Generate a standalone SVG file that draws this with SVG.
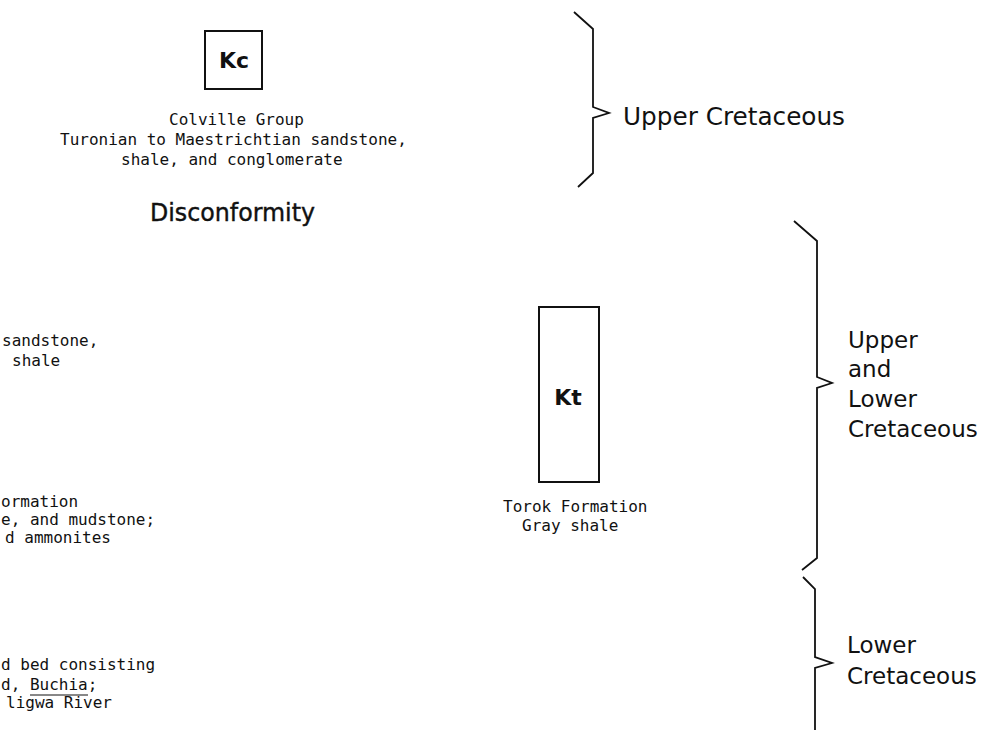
<svg xmlns="http://www.w3.org/2000/svg" width="985" height="730" viewBox="0 0 985 730">
<style>
.mono{font-family:"DejaVu Sans Mono","Liberation Mono",monospace;font-size:16px;fill:#111}
.lab{font-family:"DejaVu Sans","Liberation Sans",sans-serif;fill:#111}
.sym{font-family:"DejaVu Sans","Liberation Sans",sans-serif;font-weight:bold;font-size:22px;fill:#111}
.box{fill:none;stroke:#111;stroke-width:2}
.br{fill:none;stroke:#111;stroke-width:1.8;stroke-linejoin:miter}
</style>
<rect width="985" height="730" fill="#fff"/>
<g id="kc">
<rect class="box" x="205" y="31" width="57" height="58"/>
<text class="sym" x="234" y="68" text-anchor="middle">Kc</text>
<text class="mono" x="169" y="125">Colville Group</text>
<text class="mono" x="60" y="145">Turonian to Maestrichtian sandstone,</text>
<text class="mono" x="121" y="165">shale, and conglomerate</text>
</g>
<g id="disconformity">
<text class="lab" x="150" y="221" font-size="24" textLength="165" lengthAdjust="spacingAndGlyphs" stroke="#111" stroke-width="0.4">Disconformity</text>
</g>
<g id="kt">
<rect class="box" x="539" y="307" width="60" height="175"/>
<text class="sym" x="568" y="405" text-anchor="middle">Kt</text>
<text class="mono" x="503" y="512">Torok Formation</text>
<text class="mono" x="522" y="531">Gray shale</text>
</g>
<g id="left-unit-1">
<text class="mono" x="2" y="346">sandstone,</text>
<text class="mono" x="12" y="366">shale</text>
</g>
<g id="left-unit-2">
<text class="mono" x="1" y="507">ormation</text>
<text class="mono" x="1" y="525">e, and mudstone;</text>
<text class="mono" x="5" y="543">d ammonites</text>
</g>
<g id="left-unit-3">
<text class="mono" x="1" y="670">d bed consisting</text>
<text class="mono" x="1" y="690">d, Buchia;</text>
<line x1="30" y1="695" x2="88" y2="695" stroke="#111" stroke-width="1"/>
<text class="mono" x="6" y="708">ligwa River</text>
</g>
<g id="brackets">
<path class="br" d="M574,12 L593,29 L593,107 L609,113 L593,118 L593,173 L578,187"/>
<path class="br" d="M794,221 L817,241 L817,377 L832,383 L817,388 L817,558 L802,570"/>
<path class="br" d="M803,577 L815,589 L815,657 L832,663 L815,668 L815,730"/>
</g>
<g id="age-upper">
<text class="lab" x="623" y="125" font-size="24" textLength="222" lengthAdjust="spacingAndGlyphs">Upper Cretaceous</text>
</g>
<g id="age-upper-lower">
<text class="lab" font-size="23" x="848" y="348">Upper</text>
<text class="lab" font-size="23" x="848" y="377">and</text>
<text class="lab" font-size="23" x="848" y="407">Lower</text>
<text class="lab" font-size="23" x="848" y="437">Cretaceous</text>
</g>
<g id="age-lower">
<text class="lab" font-size="23" x="847" y="653">Lower</text>
<text class="lab" font-size="23" x="847" y="684">Cretaceous</text>
</g>
</svg>
